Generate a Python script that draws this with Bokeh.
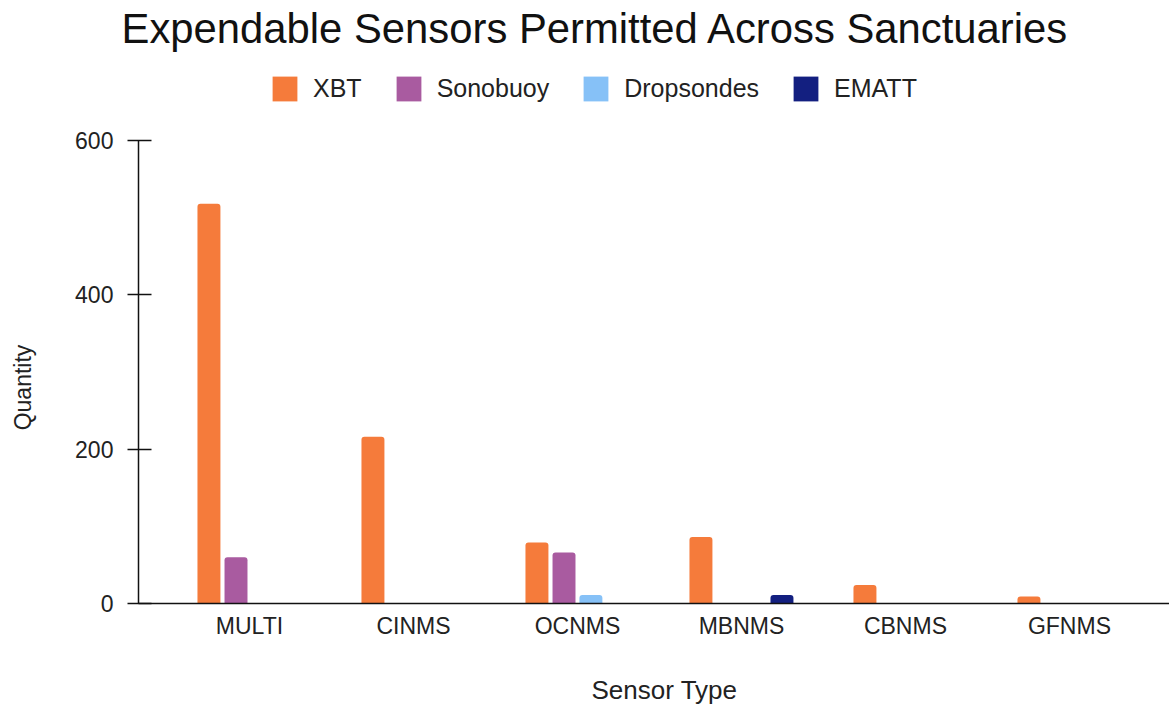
from math import pi

from bokeh.plotting import figure
from bokeh.models import (Range1d, FixedTicker, Legend, LegendItem, Label,
                          ColumnDataSource)
from bokeh.embed import file_html
from bokeh.resources import INLINE

# Data
sanctuaries = ["MULTI", "CINMS", "OCNMS", "MBNMS", "CBNMS", "GFNMS"]
xbt = [518, 216, 79, 86, 24, 9]
sonobuoy = [60, 0, 66, 0, 0, 0]
dropsondes = [0, 0, 11, 0, 0, 0]
ematt = [0, 0, 0, 11, 0, 0]
series_names = ["XBT", "Sonobuoy", "Dropsondes", "EMATT"]
y_ticks = [0, 200, 400, 600]

FONT = "Liberation Sans"
TEXT = "#222222"
colors = ["#F57B3B", "#A95BA0", "#86C1F7", "#131F80"]
offsets = [-0.247, -0.082, 0.082, 0.247]
bar_w = 0.14

# The frame covers the whole page; both axes are pinned inside it so the
# title, legend and axis titles can be placed freely as annotations.
W, H = 1169, 704
X_LEFT, X_RIGHT = -1.518, 5.61
AXIS_X = -0.677
Y_BOTTOM, Y_TOP = -130.9, 781.4

p = figure(
    frame_width=W, frame_height=H,
    min_border_left=0, min_border_right=0,
    min_border_top=0, min_border_bottom=0,
    x_range=Range1d(X_LEFT, X_RIGHT), y_range=Range1d(Y_BOTTOM, Y_TOP),
    output_backend="svg", toolbar_location=None,
)
p.outline_line_color = None
p.xgrid.grid_line_color = None
p.ygrid.grid_line_color = None
p.background_fill_color = "white"
p.border_fill_color = "white"

idx = list(range(len(sanctuaries)))
renderers = []
for name, vals, col, off in zip(series_names, [xbt, sonobuoy, dropsondes, ematt], colors, offsets):
    src = ColumnDataSource(dict(x=[i + off for i in idx], top=vals))
    r = p.vbar(x="x", top="top", width=bar_w, bottom=0, source=src,
               fill_color=col, line_color=None, border_radius=(3, 3, 0, 0))
    renderers.append((name, r))

# Y axis
ya = p.yaxis[0]
ya.fixed_location = AXIS_X
ya.bounds = (0, 600)
ya.ticker = FixedTicker(ticks=y_ticks)
ya.minor_tick_line_color = None
ya.major_tick_out = 11
ya.major_tick_in = 13
ya.major_tick_line_color = "#111111"
ya.major_tick_line_width = 1.5
ya.axis_line_color = "#111111"
ya.axis_line_width = 1.5
ya.major_label_standoff = 14
ya.major_label_text_font = FONT
ya.major_label_text_font_size = "23px"
ya.major_label_text_color = TEXT

# X axis
xa = p.xaxis[0]
xa.fixed_location = 0
xa.bounds = (AXIS_X, X_RIGHT)
xa.ticker = FixedTicker(ticks=idx)
xa.major_label_overrides = {i: s for i, s in zip(idx, sanctuaries)}
xa.minor_tick_line_color = None
xa.major_tick_line_color = None
xa.major_tick_out = 0
xa.major_tick_in = 0
xa.axis_line_color = "#111111"
xa.axis_line_width = 1.5
xa.major_label_standoff = 10
xa.major_label_text_font = FONT
xa.major_label_text_font_size = "23px"
xa.major_label_text_color = TEXT

# Axis titles
p.add_layout(Label(
    x=22, y=317, x_units="screen", y_units="screen", angle=pi / 2,
    text="Quantity", text_align="center", text_baseline="middle",
    text_font=FONT, text_font_size="23px", text_color=TEXT,
))
p.add_layout(Label(
    x=664, y=15, x_units="screen", y_units="screen",
    text="Sensor Type", text_align="center", text_baseline="middle",
    text_font=FONT, text_font_size="26px", text_color=TEXT,
))

# Legend across the top
legend = Legend(
    items=[LegendItem(label=n, renderers=[r]) for n, r in renderers],
    orientation="horizontal",
    location=(269, 600),
    glyph_width=31, glyph_height=31,
    label_standoff=13, spacing=31,
    label_text_font=FONT, label_text_font_size="25px",
    label_text_color=TEXT, label_height=31,
    padding=0, margin=0,
    border_line_color=None, background_fill_alpha=0,
)
p.add_layout(legend, "center")

# Chart title
p.add_layout(Label(
    x=595, y=676, x_units="screen", y_units="screen",
    text="Expendable Sensors Permitted Across Sanctuaries",
    text_align="center", text_baseline="alphabetic",
    text_font=FONT, text_font_size="41.8px", text_color="#111111",
))

open("out.html", "w").write(file_html(p, INLINE))
